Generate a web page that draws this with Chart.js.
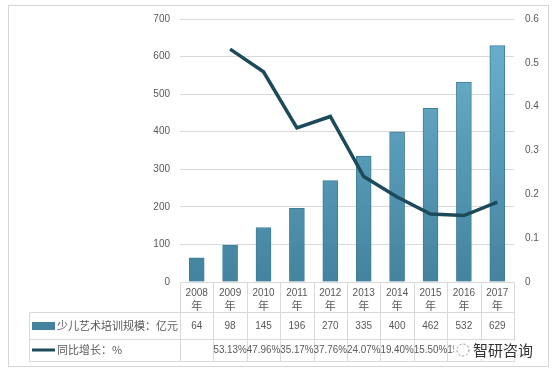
<!DOCTYPE html>
<html>
<head>
<meta charset="utf-8">
<script src="https://cdn.jsdelivr.net/npm/chart.js@4.4.1/dist/chart.umd.min.js"></script>
<style>
  html, body { margin: 0; padding: 0; background: #fff; }
  canvas { display: block; }
</style>
</head>
<body>
<canvas id="myChart" width="552" height="374"></canvas>
<script>
var years = ['2008', '2009', '2010', '2011', '2012', '2013', '2014', '2015', '2016', '2017'];
var scaleValues = [64, 98, 145, 196, 270, 335, 400, 462, 532, 629];
var growthPct = [null, 53.13, 47.96, 35.17, 37.76, 24.07, 19.40, 15.50, 15.15, 18.23];
var barLabel = '少儿艺术培训规模：亿元';
var lineLabel = '同比增长：%';

var textColor = '#595959';
var gridColor = '#d9d9d9';
var numFont = '10px "Liberation Sans", Arial, sans-serif';
var cjkFont = '11px "Noto Sans CJK SC", sans-serif';

function barFill(context) {
    var chart = context.chart;
    var area = chart.chartArea;
    if (!area) return '#5399b6';
    var g = chart.ctx.createLinearGradient(0, area.top, 0, area.bottom);
    g.addColorStop(0, '#6cb3cf');
    g.addColorStop(1, '#4483a0');
    return g;
}

// data table under the plot, drawn on the x scale positions
var tablePlugin = {
    id: 'table',
    beforeDraw: function(chart) {
        var ctx = chart.ctx;
        ctx.save();
        ctx.fillStyle = '#fff';
        ctx.fillRect(0, 0, chart.width, chart.height);
        ctx.strokeStyle = '#d6d6d6';
        ctx.lineWidth = 1;
        ctx.strokeRect(8.5, 5.5, 540, 361);
        ctx.restore();
    },
    afterDraw: function(chart) {
        var ctx = chart.ctx;
        var area = chart.chartArea;
        var x = chart.scales.x;
        var n = years.length;
        var cw = area.width / n;
        var top = Math.round(area.bottom) + 0.5;
        var r1 = 312.5, r2 = 339.5, r3 = 361.5, left = 29.5;

        ctx.save();
        ctx.strokeStyle = gridColor;
        ctx.lineWidth = 1;
        ctx.beginPath();
        ctx.moveTo(area.left, top); ctx.lineTo(area.right, top);
        [r1, r2, r3].forEach(function(y) {
            ctx.moveTo(left, y); ctx.lineTo(area.right, y);
        });
        ctx.moveTo(left, r1); ctx.lineTo(left, r3);
        for (var i = 0; i <= n; i++) {
            var bx = Math.round(area.left + i * cw) + 0.5;
            ctx.moveTo(bx, top); ctx.lineTo(bx, r3);
        }
        ctx.stroke();

        ctx.fillStyle = textColor;
        ctx.textAlign = 'center';
        ctx.textBaseline = 'middle';
        for (var j = 0; j < n; j++) {
            var cx = x.getPixelForValue(j);
            ctx.font = numFont;
            ctx.fillText(years[j], cx, 293);
            ctx.font = cjkFont;
            ctx.fillText('年', cx, 306);
            ctx.font = numFont;
            ctx.fillText(String(scaleValues[j]), cx, 326);
            if (growthPct[j] !== null) {
                ctx.fillText(growthPct[j].toFixed(2) + '%', cx, 350, cw);
            }
        }

        // legend keys in the first column
        ctx.fillStyle = barFill({ chart: chart });
        ctx.fillRect(32, 322, 23, 8);
        ctx.strokeStyle = '#1c4a5b';
        ctx.lineWidth = 3;
        ctx.beginPath();
        ctx.moveTo(32, 350); ctx.lineTo(55, 350);
        ctx.stroke();
        ctx.fillStyle = textColor;
        ctx.textAlign = 'left';
        ctx.font = cjkFont;
        ctx.fillText(barLabel, 57, 326);
        ctx.fillText(lineLabel, 57, 350);

        // watermark
        ctx.fillStyle = 'rgba(255,255,255,0.95)';
        ctx.fillRect(454, 341, 84, 18);
        ctx.strokeStyle = '#888';
        ctx.lineWidth = 1;
        ctx.setLineDash([2, 2]);
        ctx.beginPath();
        ctx.arc(463, 350, 6, 0, Math.PI * 2);
        ctx.stroke();
        ctx.setLineDash([]);
        ctx.fillStyle = '#333';
        ctx.font = '15px "Noto Sans CJK SC", sans-serif';
        ctx.fillText('智研咨询', 473, 350);
        ctx.restore();
    }
};

var ctx = document.getElementById('myChart');

var myChart = new Chart(ctx, {
    data: {
        labels: years,
        datasets: [{
            type: 'line',
            label: lineLabel,
            data: growthPct.map(function(v) { return v === null ? null : v / 100; }),
            yAxisID: 'y1',
            borderColor: '#1c4a5b',
            borderWidth: 3.5,
            pointRadius: 0,
            tension: 0,
            order: 0
        }, {
            type: 'bar',
            label: barLabel,
            data: scaleValues,
            yAxisID: 'y',
            backgroundColor: barFill,
            borderColor: '#3f7e99',
            borderWidth: 1,
            barThickness: 15,
            order: 1
        }]
    },
    options: {
        responsive: false,
        animation: false,
        layout: {
            padding: { left: 140, right: 8, top: 19, bottom: 92 }
        },
        plugins: {
            legend: { display: false },
            tooltip: { enabled: false }
        },
        scales: {
            x: {
                display: false,
                offset: true
            },
            y: {
                position: 'left',
                min: 0,
                max: 700,
                ticks: {
                    stepSize: 100,
                    padding: 10,
                    color: textColor,
                    font: { family: '"Liberation Sans", Arial, sans-serif', size: 10 }
                },
                grid: { color: gridColor, drawTicks: false },
                border: { display: false },
                afterFit: function(scale) { scale.width = 40; }
            },
            y1: {
                position: 'right',
                min: 0,
                max: 0.6,
                ticks: {
                    stepSize: 0.1,
                    padding: 11,
                    color: textColor,
                    font: { family: '"Liberation Sans", Arial, sans-serif', size: 10 },
                    callback: function(v) { return String(Math.round(v * 10) / 10); }
                },
                grid: { drawOnChartArea: false, drawTicks: false },
                border: { display: false },
                afterFit: function(scale) { scale.width = 30; }
            }
        }
    },
    plugins: [tablePlugin]
});
</script>
</body>
</html>
